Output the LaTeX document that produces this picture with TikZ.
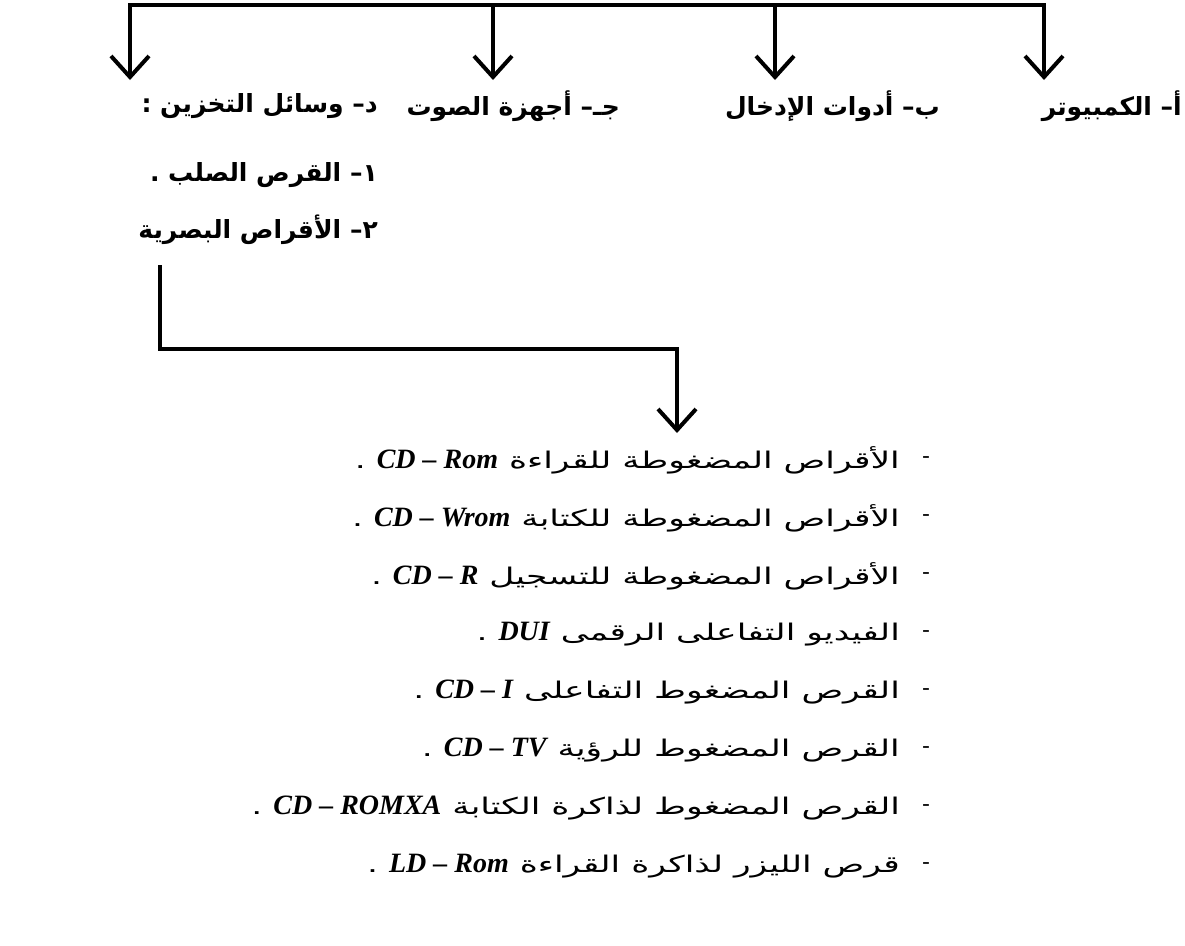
\documentclass[tikz,border=0pt]{standalone}
\usepackage{fontspec}
\usetikzlibrary{arrows.meta}
\TeXXeTstate=1
\setmainfont{Liberation Serif}
\newfontfamily\arabicfont[Script=Arabic]{DejaVu Sans}
\newfontfamily\arabicwide[Script=Arabic,FakeStretch=1.5]{DejaVu Sans}

\tikzset{
  conn/.style={line width=3.5pt, line join=miter},
  bar/.style={line width=4.5pt, line cap=rect},
  vee/.style={-{Straight Barb[length=21pt,width=38pt,line width=4pt]}},
  head/.style={font=\arabicfont\bfseries\fontsize{25}{30}\selectfont, inner sep=0pt, anchor=east},
  entry/.style={font=\arabicwide\fontsize{23}{27}\selectfont, inner sep=0pt, anchor=east},
  bullet/.style={font=\arabicfont\fontsize{22}{26}\selectfont, inner sep=0pt},
}
\newcommand{\lat}[1]{\beginL{\rmfamily\bfseries\itshape\fontsize{28}{30}\selectfont #1}\endL{}}

\begin{document}
\begin{tikzpicture}[x=1pt,y={(0pt,-1pt)}]
\useasboundingbox (0,0) rectangle (1185,945);

% main categories
\node[head] (hA) at (1182,106) {\beginR أ– الكمبيوتر\endR};
\node[head] (hB) at (940,106) {\beginR ب– أدوات الإدخال\endR};
\node[head] (hC) at (620,106) {\beginR جـ– أجهزة الصوت\endR};
\node[head] (hD) at (378,106) {\beginR د– وسائل التخزين :\endR};

% storage sub-items
\node[head] (s1) at (378,175) {\beginR ١– القرص الصلب .\endR};
\node[head] (s2) at (378,230) {\beginR ٢– الأقراص البصرية\endR};

% top distribution bar
\coordinate (bD) at (130,5);
\coordinate (bC) at (493,5);
\coordinate (bB) at (775,5);
\coordinate (bA) at (1044,5);
\coordinate (tD) at (130,80);
\coordinate (tC) at (493,80);
\coordinate (tB) at (775,80);
\coordinate (tA) at (1044,80);
\draw[bar] (bD) -- (bA);
\foreach \k in {A,B,C,D} \draw[conn, vee] (b\k) -- (t\k);

% optical discs list
\foreach \i/\txt in {
  1/{الأقراص المضغوطة للقراءة \lat{CD – Rom} .},
  2/{الأقراص المضغوطة للكتابة \lat{CD – Wrom} .},
  3/{الأقراص المضغوطة للتسجيل \lat{CD – R} .},
  4/{الفيديو التفاعلى الرقمى \lat{DUI} .},
  5/{القرص المضغوط التفاعلى \lat{CD – I} .},
  6/{القرص المضغوط  للرؤية \lat{CD – TV} .},
  7/{القرص المضغوط لذاكرة الكتابة \lat{CD – ROMXA} .},
  8/{قرص الليزر لذاكرة القراءة \lat{LD – Rom} .}}
{
  \node[entry] (L\i) at (900,{402+58*\i}) {\beginR\txt\endR};
  \node[bullet] (m\i) at (926,{402+58*\i}) {-};
}

% connector from optical discs to the list
\coordinate (c0) at (160,265);
\coordinate (c1) at (160,349);
\coordinate (c2) at (677,349);
\coordinate (tL) at (677,433);
\draw[conn, vee] (c0) -- (c1) -- (c2) -- (tL);
\end{tikzpicture}
\end{document}
